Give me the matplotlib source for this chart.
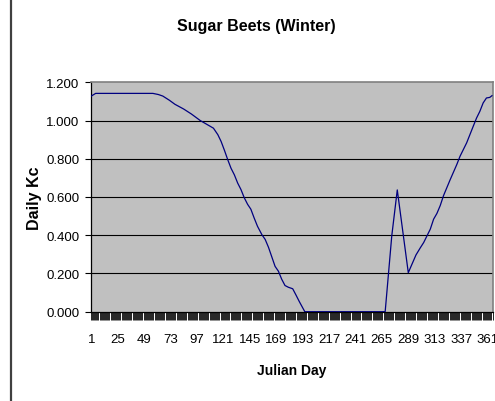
import numpy as np
import matplotlib
matplotlib.use("Agg")
import matplotlib.pyplot as plt
from matplotlib.lines import Line2D

plt.rcParams['font.family'] = ['Liberation Sans', 'DejaVu Sans']

# Daily crop coefficient for winter sugar beets (vertices of the Kc curve)
days = [1, 5, 57, 62, 66, 72, 77, 85, 92, 100, 106, 112, 116, 119, 122,
        125, 128, 131, 134, 137, 140, 143, 146, 149, 152, 156, 159, 162,
        165, 168, 171, 174, 177, 180, 184, 187, 190, 195, 268, 274, 279,
        289, 292, 296, 300, 303, 306, 309, 312, 315, 318, 321, 327, 333,
        336, 342, 348, 351, 354, 357, 360, 363, 365]
kc = [1.128, 1.142, 1.142, 1.136, 1.128, 1.106, 1.085, 1.060, 1.034, 1.000,
      0.980, 0.960, 0.926, 0.890, 0.844, 0.795, 0.750, 0.716, 0.673, 0.639,
      0.596, 0.562, 0.536, 0.490, 0.447, 0.403, 0.378, 0.337, 0.287, 0.237,
      0.212, 0.170, 0.137, 0.128, 0.120, 0.087, 0.053, 0.000, 0.000, 0.397,
      0.637, 0.204, 0.244, 0.297, 0.335, 0.362, 0.397, 0.432, 0.484, 0.514,
      0.555, 0.607, 0.690, 0.769, 0.813, 0.883, 0.970, 1.013, 1.048, 1.092,
      1.118, 1.121, 1.130]

label_days = list(range(1, 366, 24))
y_ticks = [0.0, 0.2, 0.4, 0.6, 0.8, 1.0, 1.2]

fig = plt.figure(figsize=(4.95, 4.02), dpi=100)
ax = fig.add_axes([90.7 / 495, 89.3 / 402, 401.8 / 495, 229.4 / 402])
ax.set_facecolor('#C0C0C0')

for yv in y_ticks[1:-1]:
    ax.axhline(yv, color='black', lw=0.8, zorder=1)

ax.plot(days, kc, color='#000080', lw=0.9, zorder=3)

ax.set_xlim(0.5, 365.5)
ax.set_ylim(0, 1.2)

# category axis: a tick between every day, labels every 24 days
ax.set_xticks(np.arange(0.5, 366, 1), minor=True)
ax.set_xticks(label_days)
ax.set_xticklabels([str(d) for d in label_days], fontsize=9.5)
ax.tick_params(axis='x', which='minor', length=5.5, width=0.6, direction='out', color='black')
ax.tick_params(axis='x', which='major', length=0, pad=15.5)

ax.set_yticks(y_ticks)
ax.set_yticklabels([f"{v:.3f}" for v in y_ticks], fontsize=9.5)
ax.tick_params(axis='y', length=4.5, width=0.8, direction='out', pad=3.5)

for side in ['top', 'right']:
    ax.spines[side].set_color('#808080')
    ax.spines[side].set_linewidth(1.2)
for side in ['left', 'bottom']:
    ax.spines[side].set_color('black')
    ax.spines[side].set_linewidth(0.9)

ax.set_xlabel("Julian Day", fontsize=10, fontweight='bold', labelpad=12.5)
ax.set_ylabel("Daily Kc", fontsize=11.5, fontweight='bold', labelpad=3)
fig.text(256.7 / 495, 1 - 26.7 / 402, "Sugar Beets (Winter)", fontsize=11.5,
         fontweight='bold', ha='center', va='center')

# chart frame edge on the left
fig.add_artist(Line2D([10.5 / 495] * 2, [0, 1], transform=fig.transFigure,
                      color='#404040', lw=1.6))

fig.savefig("out.png", dpi=100)
